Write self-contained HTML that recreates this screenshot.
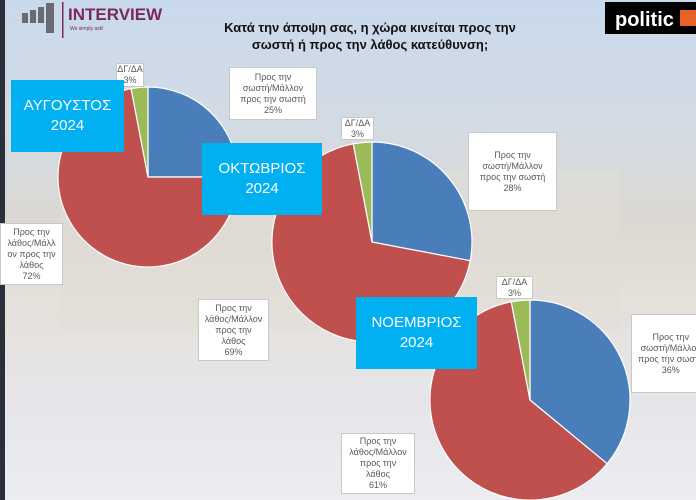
<!DOCTYPE html>
<html><head><meta charset="utf-8"><style>
body{margin:0;width:696px;height:500px;overflow:hidden;font-family:"Liberation Sans",sans-serif;}
.wrap{position:relative;width:696px;height:500px;background:linear-gradient(180deg,#c9d9ec 0%,#d3dbe4 25%,#dcd8d2 45%,#e4e0da 60%,#e6e6ea 80%,#ecedf1 100%);}
.lb{position:absolute;background:#fff;border:1px solid #c8c8c8;color:#595959;font-size:9px;line-height:11px;text-align:center;display:flex;align-items:center;justify-content:center;box-sizing:border-box;}
.mb{position:absolute;background:#00b0f0;color:#fff;font-size:15px;line-height:20px;text-align:center;display:flex;align-items:center;justify-content:center;}
</style></head><body><div class="wrap">
<div style="position:absolute;left:0;top:0;width:5px;height:500px;background:#2a2f3a"></div>
<svg width="696" height="500" style="position:absolute;left:0;top:0">
<rect x="60" y="170" width="560" height="160" fill="#e2ddd6" opacity="0.5"/>
<g fill="#6a6a72"><rect x="22" y="13" width="6" height="10"/><rect x="30" y="10" width="6" height="13"/><rect x="38" y="7" width="6" height="16"/><rect x="46" y="3" width="8" height="30"/></g>
<rect x="62" y="2" width="1.5" height="36" fill="#7a2a5a"/>
<text x="68" y="20" font-size="17" font-weight="bold" fill="#7a2a5a" font-family="Liberation Sans">INTERVIEW</text>
<text x="70" y="30" font-size="5" fill="#7a2a5a" font-family="Liberation Sans">We simply ask!</text>
<rect x="605" y="2" width="91" height="32" fill="#000"/>
<text x="615" y="26" font-size="20" font-weight="bold" fill="#fff" font-family="Liberation Sans">politic</text>
<rect x="680" y="10" width="16" height="16" fill="#e8622a"/>
<text x="370" y="32" text-anchor="middle" font-size="13" font-weight="bold" fill="#111" font-family="Liberation Sans">Κατά την άποψη σας, η χώρα κινείται προς την</text>
<text x="370" y="49" text-anchor="middle" font-size="13" font-weight="bold" fill="#111" font-family="Liberation Sans">σωστή ή προς την λάθος κατεύθυνση;</text>
<g stroke="#fff" stroke-width="1.2">
<path d="M148,177 L148,87 A90,90 0 0 1 238,177 Z" fill="#4a7ebb"/>
<path d="M148,177 L238,177 A90,90 0 1 1 131.1,88.6 Z" fill="#c0504d"/>
<path d="M148,177 L131.1,88.6 A90,90 0 0 1 148,87 Z" fill="#9bbb59"/>
<path d="M372,242 L372,142 A100,100 0 0 1 470.2,260.7 Z" fill="#4a7ebb"/>
<path d="M372,242 L470.2,260.7 A100,100 0 1 1 353.3,143.8 Z" fill="#c0504d"/>
<path d="M372,242 L353.3,143.8 A100,100 0 0 1 372,142 Z" fill="#9bbb59"/>
<path d="M530,400 L530,300 A100,100 0 0 1 607.1,463.7 Z" fill="#4a7ebb"/>
<path d="M530,400 L607.1,463.7 A100,100 0 1 1 511.3,301.8 Z" fill="#c0504d"/>
<path d="M530,400 L511.3,301.8 A100,100 0 0 1 530,300 Z" fill="#9bbb59"/>
</g>
</svg>
<div class="lb" style="left:116px;top:63px;width:28px;height:24px">ΔΓ/ΔΑ<br>3%</div>
<div class="lb" style="left:229px;top:67px;width:88px;height:53px">Προς την<br>σωστή/Μάλλον<br>προς την σωστή<br>25%</div>
<div class="lb" style="left:0px;top:223px;width:63px;height:62px">Προς την<br>λάθος/Μάλλ<br>ον προς την<br>λάθος<br>72%</div>
<div class="lb" style="left:341px;top:117px;width:33px;height:23px">ΔΓ/ΔΑ<br>3%</div>
<div class="lb" style="left:468px;top:132px;width:89px;height:79px">Προς την<br>σωστή/Μάλλον<br>προς την σωστή<br>28%</div>
<div class="lb" style="left:198px;top:299px;width:71px;height:62px">Προς την<br>λάθος/Μάλλον<br>προς την<br>λάθος<br>69%</div>
<div class="lb" style="left:496px;top:276px;width:37px;height:23px">ΔΓ/ΔΑ<br>3%</div>
<div class="lb" style="left:631px;top:314px;width:80px;height:79px;justify-content:flex-start;padding-left:6px">Προς την<br>σωστή/Μάλλον<br>προς την σωστή<br>36%</div>
<div class="lb" style="left:341px;top:433px;width:74px;height:61px">Προς την<br>λάθος/Μάλλον<br>προς την<br>λάθος<br>61%</div>
<div class="mb" style="left:11px;top:80px;width:113px;height:72px">ΑΥΓΟΥΣΤΟΣ<br>2024</div>
<div class="mb" style="left:202px;top:143px;width:120px;height:72px">ΟΚΤΩΒΡΙΟΣ<br>2024</div>
<div class="mb" style="left:356px;top:297px;width:121px;height:72px">ΝΟΕΜΒΡΙΟΣ<br>2024</div>
</div></body></html>
